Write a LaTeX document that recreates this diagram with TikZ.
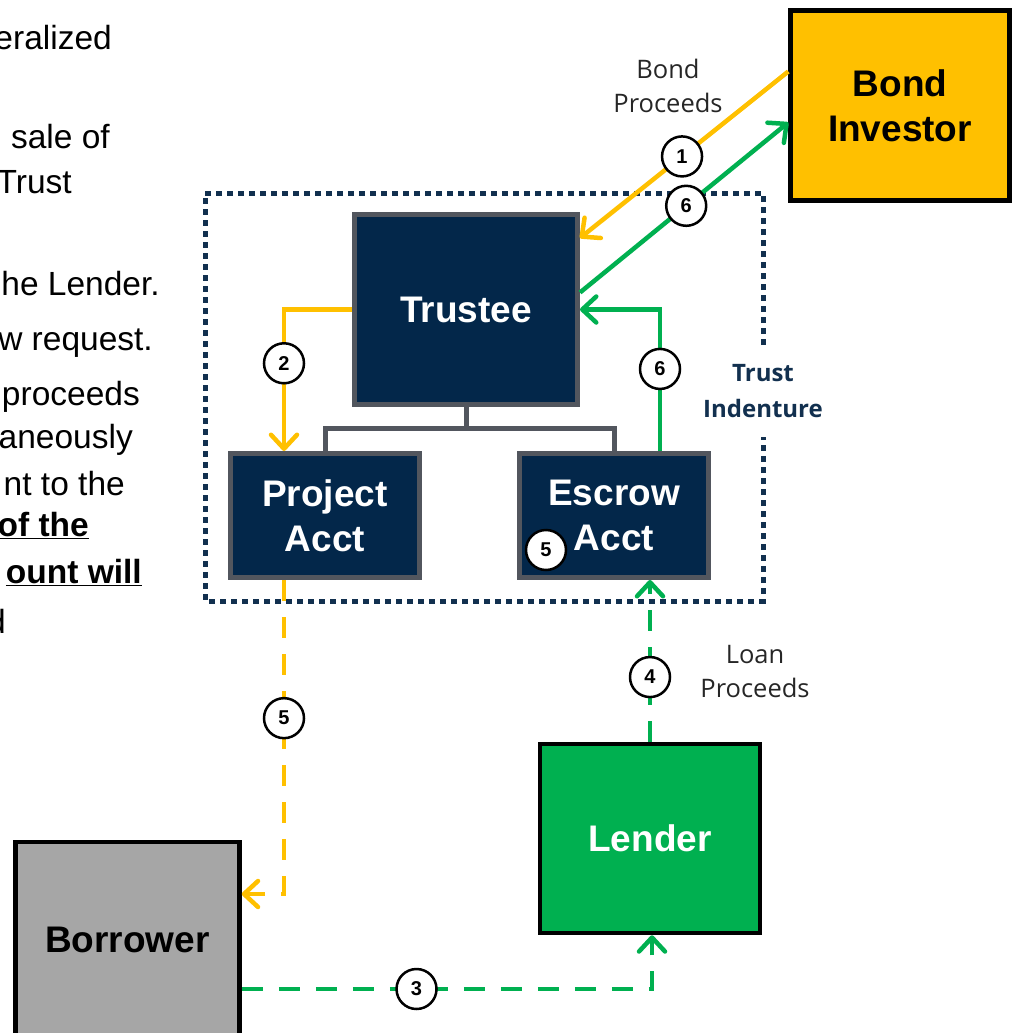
\documentclass[tikz,border=0pt]{standalone}
\usepackage{fontspec}
\setmainfont{Liberation Sans}
\newfontfamily\osans{Open Sans}
\usetikzlibrary{arrows.meta,calc}
\definecolor{gold}{HTML}{FFC000}
\definecolor{grn}{HTML}{00B050}
\definecolor{navy}{HTML}{03274A}
\definecolor{boxgray}{HTML}{52565E}
\definecolor{borrowgray}{HTML}{A6A6A6}
\definecolor{indent}{HTML}{12304F}
\begin{document}
\begin{tikzpicture}[x=1pt,y=-1pt,
  bigtext/.style={font=\bfseries\fontsize{37}{45}\selectfont, align=center},
  navybox/.style={bigtext, fill=navy, draw=boxgray, line width=5pt, text=white, inner sep=0pt},
  extbox/.style={bigtext, draw=black, line width=4.5pt, inner sep=0pt},
  flow/.style={line width=4.5pt, -{Straight Barb[length=14pt,width=26pt,round]}},
  yflow/.style={flow, draw=gold},
  gflow/.style={flow, draw=grn},
  dashy/.style={dash pattern=on 21pt off 16pt},
  num/.style={circle, draw=black, fill=white, line width=2.5pt, minimum size=40pt, inner sep=0pt, font=\bfseries\fontsize{20}{20}\selectfont, text=black, solid},
  lbl/.style={font=\osans\fontsize{25.5}{34}\selectfont, align=center, text=black!85},
  frag/.style={anchor=base east, inner sep=0pt, font=\fontsize{33.5}{33.5}\selectfont},
  fragb/.style={frag, font=\bfseries\fontsize{33.5}{33.5}\selectfont},
  link/.style={draw=boxgray, line width=5pt}
]
\useasboundingbox (0,0) rectangle (1012,1033);

% left text fragments (cut at the left edge)
\begin{scope}
\clip (0,0) rectangle (200,700);
\node[frag] (f1) at (112,49) {eralized};
\node[frag] (f2) at (110,148) {sale of};
\node[frag] (f3) at (72,193) {Trust};
\node[frag] (f4) at (160,295) {he Lender.};
\node[frag] (f5) at (153,350) {w request.};
\node[frag] (f6) at (140,405) {proceeds};
\node[frag] (f7) at (133,448) {aneously};
\node[frag] (f8) at (125,495) {nt to the};
\node[fragb] (f9) at (89,536) {\underline{of the}};
\node[fragb] (f10) at (142,583) {\underline{ount will}};
\node[frag] (f11) at (6,633) {d};
\end{scope}

% trust indenture frame
\draw[indent, line width=5pt, dash pattern=on 6pt off 5pt]
  (763,345) -- (763,193) -- (205,193) -- (205,601) -- (763,601) -- (763,437);
\node[font=\osans\bfseries\fontsize{24}{36}\selectfont, text=indent, align=center] (ti) at (763,391) {Trust\\Indenture};

% boxes
\node[extbox, fill=gold, minimum width=219pt, minimum height=190pt] (investor) at (900,105.5) {Bond\\Investor};
\node[navybox, minimum width=223pt, minimum height=190pt] (trustee) at (466,309.5) {Trustee};
\node[navybox, minimum width=189pt, minimum height=124pt] (project) at (325,515.5) {\raisebox{-5pt}{\parbox{180pt}{\centering Project\\Acct}}};
\node[navybox, minimum width=189pt, minimum height=124pt] (escrow) at (614,515.5) {\raisebox{-5pt}{\parbox{180pt}{\centering Escrow\\Acct}}};
\node[extbox, fill=grn, text=white, minimum width=220pt, minimum height=189pt] (lender) at (650,838.5) {Lender};
\node[extbox, fill=borrowgray, minimum width=224pt, minimum height=196pt] (borrower) at (127.5,940) {Borrower};

% trustee to accounts
\draw[link] (trustee.south) -- ++(0,21);
\draw[link] (project.north) -- ++(0,-23) -| (escrow.north);

% flows
\draw[yflow] ([yshift=34pt]investor.west) -- node[num, pos=0.51] (n1) {1} ([yshift=-26pt]trustee.north east);
\draw[gflow] ([yshift=17pt]trustee.east) -- node[num, pos=0.51] (n6a) {6} ([yshift=-17pt]investor.west);
\draw[yflow] (trustee.west) -| node[num, pos=0.69] (n2) {2} ([xshift=-41pt]project.north);
\draw[gflow] ([xshift=46pt]escrow.north) |- node[num, pos=0.29] (n6b) {6} (trustee.east);
\draw[gflow, dashy] (lender.north) -- node[num, pos=0.4] (n4) {4} (lender.north |- escrow.south);
\draw[yflow, dashy] ([xshift=-41pt]project.south) |- node[num, pos=0.22] (n5) {5} ([yshift=46pt]borrower.east);
\draw[gflow, dashy] ([yshift=-49pt]borrower.east) -| node[num, pos=0.213] (n3) {3} ([xshift=2pt]lender.south);
\node[num] (n5b) at (546,550) {5};

% labels
\node[lbl] (bp) at (668,86) {Bond\\Proceeds};
\node[lbl] (lp) at (755,672) {Loan\\Proceeds};
\end{tikzpicture}
\end{document}
